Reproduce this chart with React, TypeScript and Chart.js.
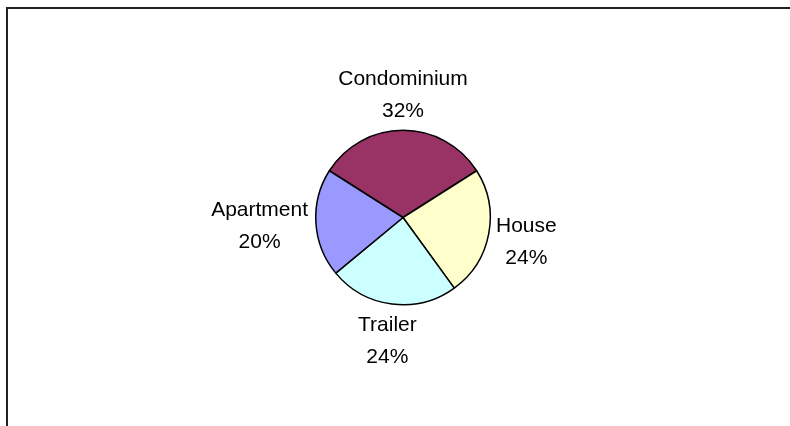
import React, { useEffect, useRef } from "react";
import { Chart, registerables } from "chart.js";

Chart.register(...registerables);

const categories = ["Condominium", "House", "Trailer", "Apartment"];
const values = [32, 24, 24, 20];
const colors = ["#993366", "#FFFFCC", "#CCFFFF", "#9999FF"];

const FONT = "21px 'Liberation Sans', Arial, sans-serif";

const framePlugin = {
  id: "frame",
  beforeDraw(chart: any) {
    const ctx = chart.ctx;
    ctx.save();
    ctx.fillStyle = "#ffffff";
    ctx.fillRect(0, 0, chart.width, chart.height);
    ctx.strokeStyle = "#222222";
    ctx.lineWidth = 2;
    ctx.beginPath();
    ctx.moveTo(7, chart.height + 2);
    ctx.lineTo(7, 8);
    ctx.lineTo(chart.width + 2, 8);
    ctx.stroke();
    ctx.restore();
  },
};

const labelPlugin = {
  id: "outLabels",
  afterDraw(chart: any) {
    const ctx = chart.ctx;
    const meta = chart.getDatasetMeta(0);
    const data = chart.data.datasets[0].data as number[];
    const total = data.reduce((a, b) => a + b, 0);
    ctx.save();
    ctx.font = FONT;
    ctx.fillStyle = "#000000";
    ctx.textAlign = "center";
    ctx.textBaseline = "alphabetic";
    meta.data.forEach((arc: any, i: number) => {
      const mid = (arc.startAngle + arc.endAngle) / 2;
      const dx = Math.cos(mid);
      const dy = Math.sin(mid);
      const l1 = String(chart.data.labels[i]);
      const l2 = Math.round((data[i] / total) * 100) + "%";
      const w = Math.max(ctx.measureText(l1).width, ctx.measureText(l2).width);
      const halfW = w / 2;
      const halfH = 28;
      const gap = 8;
      const ax = arc.x + dx * (arc.outerRadius + gap);
      const ay = arc.y + dy * (arc.outerRadius + gap);
      const cx = ax + dx * halfW;
      const cy = ay + dy * halfH;
      ctx.fillText(l1, cx, cy - 9);
      ctx.fillText(l2, cx, cy + 23);
    });
    ctx.restore();
  },
};

export default function App() {
  const ref = useRef<HTMLCanvasElement | null>(null);
  useEffect(() => {
    if (!ref.current) return;
    const total = values.reduce((a, b) => a + b, 0);
    const chart = new Chart(ref.current, {
      type: "pie",
      data: {
        labels: categories,
        datasets: [
          {
            data: values,
            backgroundColor: colors,
            borderColor: "#000000",
            borderWidth: 1.5,
          },
        ],
      },
      options: {
        animation: false,
        responsive: false,
        maintainAspectRatio: false,
        rotation: -((values[0] / total) * 360) / 2,
        layout: { padding: { top: 129, bottom: 120, left: 315, right: 299 } },
        plugins: {
          legend: { display: false },
          tooltip: { enabled: false },
          title: { display: false },
        },
      },
      plugins: [framePlugin, labelPlugin],
    });
    return () => chart.destroy();
  }, []);
  return (
    <div style={{ position: "fixed", left: 0, top: 0, width: 790, height: 426, background: "#fff" }}>
      <canvas ref={ref} width={790} height={426} style={{ display: "block", width: 790, height: 426 }} />
    </div>
  );
}
